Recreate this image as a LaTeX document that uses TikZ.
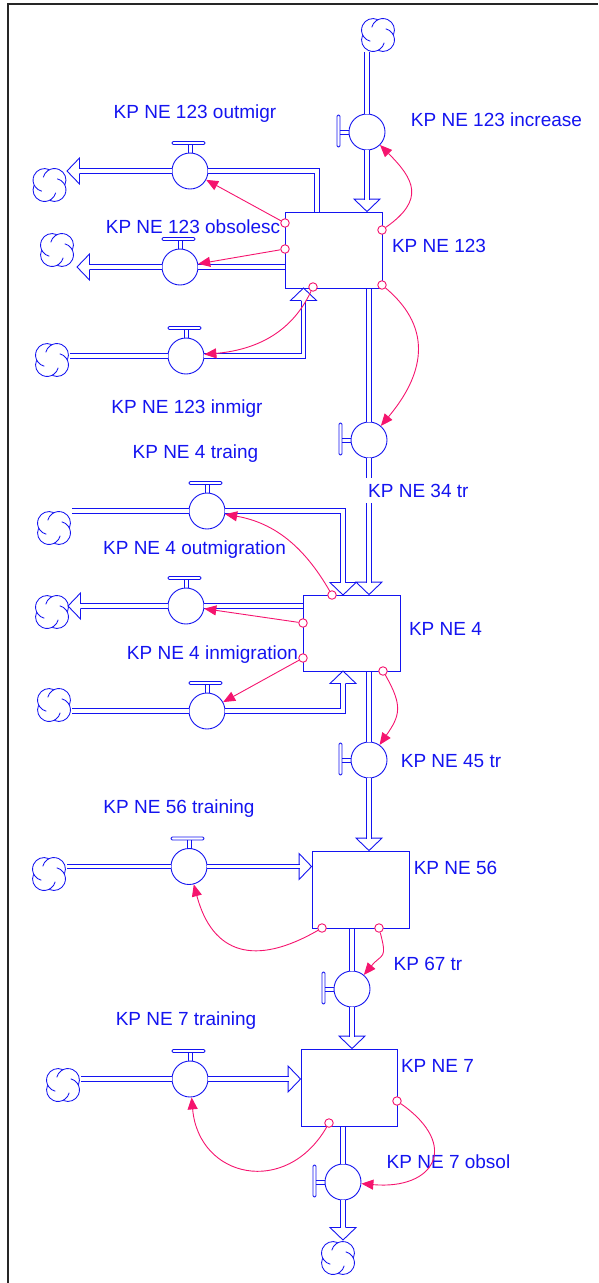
\documentclass[tikz,border=0pt]{standalone}
\usepackage{fontspec}
\setmainfont{Liberation Sans}
\usetikzlibrary{arrows.meta,calc}
\definecolor{fb}{RGB}{20,20,240}
\definecolor{lk}{RGB}{245,20,110}
\tikzset{
 flowc/.style={draw=fb, line width=0.9pt},
 pipe/.style={draw=fb, line width=0.9pt, double=white, double distance=3.6pt},
 stock/.style={draw=fb, line width=0.9pt, rectangle, inner sep=0pt},
 valve/.style={draw=fb, fill=white, line width=0.9pt, circle, minimum size=36pt, inner sep=0pt},
 lbl/.style={text=fb, font=\fontsize{19}{22}\selectfont, inner sep=0pt, anchor=base},
 link/.style={draw=lk, line width=0.9pt, -{Triangle[length=12pt,width=10pt]}},
 tap/.style={draw=lk, fill=white, line width=0.9pt, circle, minimum size=8.5pt, inner sep=0pt},
 parrow/.pic={\draw[flowc, line join=miter] (-12.5,2.25) -- (-12.5,13) -- (0,0) -- (-12.5,-13) -- (-12.5,-2.25);},
 vtop/.pic={\draw[flowc, rounded corners=1.2pt] (-18,26.5) rectangle (15,29.5);
            \draw[flowc] (-2,26.5) -- (-2,17.9) (2,26.5) -- (2,17.9);},
 vleft/.pic={\draw[flowc, rounded corners=1.2pt] (-30,-15) rectangle (-27,17);
             \draw[flowc] (-27,2) -- (-17.9,2) (-27,-2) -- (-17.9,-2);},
 cloudsym/.pic={\foreach \t in {45,135,225,315}{\draw[flowc, line width=0.85pt, shift={(\t:7)}] ({\t-69}:11.5) arc[start angle={\t-69}, delta angle=190, radius=11.5];}},
}
\begin{document}
\begin{tikzpicture}[x=1pt,y=1pt]
\useasboundingbox (0,0) rectangle (598,-1283);
% frame
\draw[line width=1.6pt, black!85] (8,-1283) -- (8,-4) -- (598,-4);

% stocks
\node[stock, minimum width=97pt, minimum height=76pt] (s1) at (333.5,-250) {};
\node[stock, minimum width=97pt, minimum height=76pt] (s2) at (351.5,-633) {};
\node[stock, minimum width=97pt, minimum height=77pt] (s3) at (360.5,-889.5) {};
\node[stock, minimum width=96pt, minimum height=77pt] (s4) at (349,-1087.5) {};

% valves
\node[valve] (vinc) at (367,-132) {};
\node[valve] (vout) at (190,-171) {};
\node[valve] (vobs) at (180,-267) {};
\node[valve] (vin) at (186,-356) {};
\node[valve] (v34) at (369,-440) {};
\node[valve] (vtr4) at (207,-511) {};
\node[valve] (vout4) at (186,-606) {};
\node[valve] (vin4) at (207,-711) {};
\node[valve] (v45) at (369,-760) {};
\node[valve] (v56) at (189,-866.5) {};
\node[valve] (v67) at (352,-989) {};
\node[valve] (v7t) at (190,-1079) {};
\node[valve] (vob7) at (343,-1182) {};

\pic at (vinc.center) {vleft};
\pic at (v34.center) {vleft};
\pic at (v45.center) {vleft};
\pic at (v67.center) {vleft};
\pic at (vob7.center) {vleft};
\pic at (vout.center) {vtop};
\pic at (vobs.center) {vtop};
\pic at (vin.center) {vtop};
\pic at (vtr4.center) {vtop};
\pic at (vout4.center) {vtop};
\pic at (vin4.center) {vtop};
\pic at (v56.center) {vtop};
\pic at (v7t.center) {vtop};

% clouds
\coordinate (cinc) at (378,-35);   \pic at (cinc) {cloudsym};
\coordinate (cout) at (49.5,-185); \pic at (cout) {cloudsym};
\coordinate (cobs) at (57,-250);   \pic at (cobs) {cloudsym};
\coordinate (cin) at (52,-360);    \pic at (cin) {cloudsym};
\coordinate (ctr4) at (54,-528);   \pic at (ctr4) {cloudsym};
\coordinate (cout4) at (52,-612);  \pic at (cout4) {cloudsym};
\coordinate (cin4) at (54,-705);   \pic at (cin4) {cloudsym};
\coordinate (c56) at (49,-874);    \pic at (c56) {cloudsym};
\coordinate (c7t) at (63,-1085);   \pic at (c7t) {cloudsym};
\coordinate (cob7) at (338,-1258); \pic at (cob7) {cloudsym};

% pipe free ends
\coordinate (pinc) at (367,-52);
\coordinate (pout) at (80,-171);
\coordinate (pobs) at (90,-267);
\coordinate (pin) at (70,-356);
\coordinate (ptr4) at (72,-511);
\coordinate (pout4) at (81,-606);
\coordinate (pin4) at (72,-711);
\coordinate (p56) at (67,-866.5);
\coordinate (p7t) at (81,-1079);
\coordinate (pob7) at (343,-1227);

% pipes
\draw[pipe] (pinc) -- (vinc.north);
\draw[pipe] (vinc.south) -- (367,-199.5);
\pic[rotate=-90] at (vinc |- s1.north) {parrow};

\draw[pipe] (317,-212) |- (vout.east);
\draw[pipe] (vout.west) -- (pout);
\pic[rotate=180] at (67,-171) {parrow};

\draw[pipe] (vobs -| s1.west) -- (vobs.east);
\draw[pipe] (vobs.west) -- (pobs);
\pic[rotate=180] at (77,-267) {parrow};

\draw[pipe] (pin) -- (vin.west);
\draw[pipe] (vin.east) -| (303.5,-300.5);
\pic[rotate=90] at (303.5,-288) {parrow};

\draw[pipe] (v34 |- s1.south) -- (v34.north);
\draw[pipe] (v34.south) -- (369,-582.5);
\pic[rotate=-90] at (v34 |- s2.north) {parrow};

\draw[pipe] (ptr4) -- (vtr4.west);
\draw[pipe] (vtr4.east) -| (343,-582.5);
\pic[rotate=-90] at (343,-595) {parrow};

\draw[pipe] (vout4 -| s2.west) -- (vout4.east);
\draw[pipe] (vout4.west) -- (pout4);
\pic[rotate=180] at (68,-606) {parrow};

\draw[pipe] (pin4) -- (vin4.west);
\draw[pipe] (vin4.east) -| (343,-683.5);
\pic[rotate=90] at (343,-671) {parrow};

\draw[pipe] (v45 |- s2.south) -- (v45.north);
\draw[pipe] (v45.south) -- (369,-838.5);
\pic[rotate=-90] at (v45 |- s3.north) {parrow};

\draw[pipe] (p56) -- (v56.west);
\draw[pipe] (v56.east) -- (299.5,-866.5);
\pic at (v56 -| s3.west) {parrow};

\draw[pipe] (v67 |- s3.south) -- (v67.north);
\draw[pipe] (v67.south) -- (352,-1036.5);
\pic[rotate=-90] at (v67 |- s4.north) {parrow};

\draw[pipe] (p7t) -- (v7t.west);
\draw[pipe] (v7t.east) -- (288.5,-1079);
\pic at (v7t -| s4.west) {parrow};

\draw[pipe] (vob7 |- s4.south) -- (vob7.north);
\draw[pipe] (vob7.south) -- (pob7);
\pic[rotate=-90] at (343,-1240) {parrow};

% redraw stocks on top
\node[stock, minimum width=97pt, minimum height=76pt] at (s1) {};
\node[stock, minimum width=97pt, minimum height=76pt] at (s2) {};
\node[stock, minimum width=97pt, minimum height=77pt] at (s3) {};
\node[stock, minimum width=96pt, minimum height=77pt] at (s4) {};

% labels
\node[lbl] (l1) at (195,-118) {KP NE 123 outmigr};
\node[lbl] (l2) at (496.5,-126) {KP NE 123 increase};
\node[lbl] (l3) at (193,-233) {KP NE 123 obsolesc};
\node[lbl] (l4) at (439,-252) {KP NE 123};
\node[lbl] (l5) at (187,-413) {KP NE 123 inmigr};
\node[lbl] (l6) at (195.5,-458) {KP NE 4 traing};
\node[lbl, anchor=base west, fill=white, inner xsep=2pt, inner ysep=6pt] (l7) at (366,-497) {KP NE 34 tr};
\node[lbl] (l8) at (194.5,-554) {KP NE 4 outmigration};
\node[lbl] (l9) at (445.5,-635) {KP NE 4};
\node[lbl] (l10) at (212.5,-659) {KP NE 4 inmigration};
\node[lbl] (l11) at (451,-767) {KP NE 45 tr};
\node[lbl] (l12) at (179,-813) {KP NE 56 training};
\node[lbl] (l13) at (455.5,-874) {KP NE 56};
\node[lbl] (l14) at (428,-970) {KP 67 tr};
\node[lbl] (l15) at (186,-1025) {KP NE 7 training};
\node[lbl] (l16) at (437.5,-1072) {KP NE 7};
\node[lbl] (l17) at (448.5,-1168) {KP NE 7 obsol};

% information links
\node[tap] (t1) at (382,-230) {};
\node[tap] (t2) at (285,-223) {};
\node[tap] (t3) at (285,-249) {};
\node[tap] (t4) at (313,-287) {};
\node[tap] (t5) at (382,-285) {};
\node[tap] (t6) at (332,-595) {};
\node[tap] (t7) at (303,-623) {};
\node[tap] (t8) at (303,-658) {};
\node[tap] (t9) at (383,-671) {};
\node[tap] (t10) at (322,-928) {};
\node[tap] (t11) at (379,-928) {};
\node[tap] (t12) at (329,-1123) {};
\node[tap] (t13) at (397,-1101) {};

\draw[link] (t1) to[out=35,in=-45,looseness=1.5] (vinc);
\draw[link] (t2) -- (vout);
\draw[link] (t3) -- (vobs);
\draw[link] (t4) to[out=-115,in=5] (vin);
\draw[link] (t5) to[out=-40,in=50,looseness=1.2] (v34);
\draw[link] (t6) to[out=120,in=-10] (vtr4);
\draw[link] (t7) -- (vout4);
\draw[link] (t8) -- (vin4);
\draw[link] (t9) to[out=-60,in=55,looseness=1.3] (v45);
\draw[link] (t10) to[out=-150,in=-75,looseness=1.4] (v56);
\draw[link] (t11) to[out=-75,in=50,looseness=1.6] (v67);
\draw[link] (t12) to[out=-120,in=-85,looseness=1.5] (v7t);
\draw[link] (t13) to[out=-35,in=-5,looseness=2.1] (vob7);
\end{tikzpicture}
\end{document}
